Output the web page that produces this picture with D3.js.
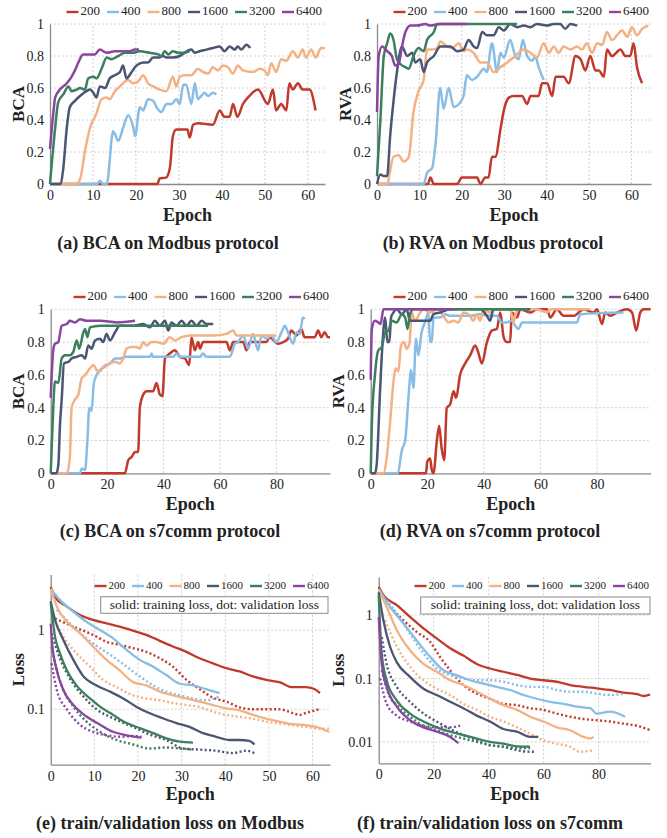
<!DOCTYPE html>
<html lang="en">
<head>
  <meta charset="UTF-8">
  <title>Training curves</title>
  <script src="https://cdn.jsdelivr.net/npm/d3@7"></script>
  <style>
    body { margin: 0; background: #fff; }
    text { font-family: "Liberation Serif", "DejaVu Serif", serif; fill: #222; }
  </style>
</head>
<body>
  <div id="chart"></div>
  <script>
    // legend entries and colours (same order in every panel)
    const sizes = ["200", "400", "800", "1600", "3200", "6400"];
    const colors = ["#c0392b", "#88bde6", "#f4b183", "#4b5574", "#3b7f5d", "#8a45a0"];

    const accTicks = [0, 0.2, 0.4, 0.6, 0.8, 1];
    const ticks64 = [0, 10, 20, 30, 40, 50, 60];
    const ticks99 = [0, 20, 40, 60, 80];
    const lossTicksModbus = [0.1, 1];
    const lossTicksS7 = [0.01, 0.1, 1];

    // [epoch, value] per series, in legend order
    const bcaModbus = [
      [[0,0],[25,0],[25.5,0.035],[27,0.04],[27.9,0.1],[28.6,0.3],[29.4,0.34],[32,0.34],[32.5,0.29],[33.3,0.37],[34.5,0.38],[37.9,0.37],[39.5,0.46],[40.6,0.42],[41.8,0.42],[42.6,0.5],[43.6,0.42],[44.9,0.5],[46.4,0.55],[48.4,0.59],[50.7,0.5],[51.9,0.59],[52.6,0.46],[53.8,0.5],[55,0.46],[55.7,0.63],[56.5,0.59],[57.7,0.63],[58.8,0.59],[60.4,0.59],[61.8,0.46]],
      [[0,0],[11,0],[11.6,0.02],[12.3,0],[13.2,0],[14.7,0.33],[15.9,0.27],[17,0.35],[18.2,0.43],[19.4,0.35],[19.8,0.3],[20.9,0.48],[21.7,0.46],[22.8,0.53],[24,0.52],[24.8,0.48],[25.9,0.45],[27.1,0.5],[28.3,0.5],[29.4,0.53],[30.2,0.5],[31,0.62],[31.7,0.62],[32.9,0.5],[33.7,0.63],[34.4,0.53],[35.2,0.55],[36,0.57],[36.8,0.55],[37.9,0.57],[38.7,0.56]],
      [[0,0],[6,0],[7,0.03],[8.1,0.2],[9.3,0.35],[10.8,0.44],[12,0.53],[13.2,0.54],[13.9,0.53],[15.1,0.58],[16.3,0.61],[17,0.63],[18.2,0.65],[19.3,0.63],[20.5,0.64],[21.7,0.68],[22.8,0.63],[24,0.61],[25.5,0.59],[27.1,0.58],[28.6,0.67],[29.4,0.61],[30.2,0.67],[31.3,0.68],[32.9,0.68],[34.4,0.72],[35.6,0.7],[36.8,0.69],[37.9,0.73],[39.1,0.71],[40.2,0.74],[41.4,0.73],[42.6,0.69],[43.7,0.74],[44.9,0.71],[47.2,0.7],[48.8,0.72],[49.9,0.71],[50.7,0.68],[51.5,0.755],[52.6,0.7],[53.8,0.78],[55,0.77],[56.5,0.83],[57.7,0.79],[58.8,0.84],[59.6,0.79],[60.8,0.84],[61.8,0.79],[63.1,0.85],[64,0.85]],
      [[0,0],[2.5,0],[3.1,0.1],[3.9,0.35],[4.6,0.48],[5.8,0.52],[7.4,0.56],[8.5,0.58],[9.3,0.59],[10.1,0.57],[10.8,0.54],[11.6,0.61],[12.8,0.6],[13.9,0.66],[15.1,0.68],[16.3,0.7],[17,0.74],[17.8,0.66],[19,0.7],[20.1,0.74],[21.7,0.76],[22.8,0.76],[24,0.79],[25.2,0.79],[26.3,0.8],[27.1,0.79],[28.6,0.79],[30.2,0.8],[31.3,0.82],[32.9,0.84],[33.7,0.82],[34.8,0.83],[36.4,0.84],[37.9,0.85],[39.5,0.86],[40.6,0.83],[41.8,0.86],[43,0.84],[43.7,0.86],[44.5,0.84],[45.7,0.87],[46.6,0.85]],
      [[0,0],[1.2,0.35],[1.9,0.51],[3.1,0.56],[4.3,0.61],[5,0.58],[6.2,0.59],[7,0.6],[8.1,0.59],[8.9,0.66],[10.1,0.67],[10.8,0.66],[12,0.72],[13.2,0.79],[14.3,0.78],[15.9,0.8],[17.4,0.82],[19.3,0.82],[20.9,0.83],[23.2,0.82],[25.2,0.81],[25.9,0.8],[26.7,0.83],[27.5,0.81],[28.6,0.83],[29.8,0.82],[31.3,0.82],[32.5,0.83]],
      [[0,0.22],[0.8,0.45],[1.2,0.54],[2.3,0.59],[3.9,0.63],[5,0.67],[5.8,0.71],[6.6,0.76],[7.7,0.81],[9.3,0.81],[10.4,0.81],[11.6,0.84],[13.2,0.82],[15.1,0.83],[17,0.83],[18.6,0.83],[19.7,0.84],[20.7,0.84]]
    ];

    const rvaModbus = [
      [[0,0],[12,0],[12.6,0.04],[13.4,0],[18.9,0],[20,0.04],[23.6,0.04],[24.4,0],[25.5,0.04],[26.3,0.04],[27.1,0.17],[27.9,0.17],[29.1,0.34],[29.9,0.46],[31.1,0.54],[32.2,0.55],[34.2,0.55],[35.4,0.5],[36.2,0.55],[38.1,0.55],[38.9,0.63],[40.1,0.63],[41.3,0.55],[42.1,0.67],[44,0.67],[45.2,0.63],[46.8,0.8],[48,0.78],[49.1,0.71],[50.3,0.8],[51.5,0.71],[52.3,0.71],[53.5,0.67],[54.2,0.84],[55.4,0.8],[57.4,0.84],[58.6,0.8],[59.7,0.8],[60.5,0.88],[61.3,0.73],[62.5,0.63]],
      [[0,0],[11,0],[11.8,0.07],[13,0.1],[13.8,0.25],[14.9,0.6],[15.7,0.47],[16.9,0.6],[18.1,0.48],[19.3,0.5],[20.4,0.55],[21.2,0.68],[22.4,0.65],[23.6,0.67],[25.2,0.72],[25.9,0.7],[27.1,0.88],[28.3,0.7],[29.1,0.82],[29.9,0.79],[31.4,0.9],[32.6,0.8],[33.4,0.78],[34.4,0.9],[35.4,0.8],[36.6,0.77],[37.3,0.8],[38.1,0.73],[39.3,0.65]],
      [[0,0],[2.5,0],[2.8,0.04],[3.9,0.17],[5.1,0.18],[6.3,0.14],[7.5,0.17],[8.6,0.45],[9.8,0.58],[11,0.65],[11.8,0.84],[13,0.84],[14.2,0.85],[14.9,0.89],[16.5,0.86],[17.7,0.85],[19.3,0.88],[20.4,0.83],[21.2,0.84],[22.8,0.82],[24.4,0.76],[25.9,0.76],[27.5,0.7],[29.1,0.73],[30.7,0.76],[32.6,0.8],[34.6,0.84],[36.2,0.82],[37.7,0.79],[39.3,0.88],[40.5,0.82],[41.7,0.86],[42.8,0.82],[44,0.86],[45.6,0.84],[47.2,0.86],[48.3,0.84],[49.5,0.88],[50.7,0.82],[51.9,0.88],[53.1,0.87],[54.2,0.95],[55.4,0.9],[56.6,0.93],[57.8,0.96],[59,0.92],[60.1,0.98],[61.3,0.93],[62.5,0.97],[64,0.99]],
      [[0,0],[0.8,0.06],[1.6,0.05],[2.4,0.05],[3.1,0.3],[3.9,0.52],[4.7,0.7],[5.9,0.86],[7.1,0.8],[8.3,0.82],[9,0.76],[10.2,0.78],[11,0.7],[11.8,0.76],[13.4,0.8],[14.9,0.86],[17.3,0.86],[18.9,0.83],[20.4,0.84],[21.6,0.9],[22.8,0.86],[23.6,0.85],[24.8,0.95],[25.9,0.93],[27.5,0.93],[28.7,0.98],[29.9,0.96],[31.4,1],[33,0.98],[34.6,0.99],[36.2,0.98],[37.7,1],[40.1,0.99],[41.7,1],[43.2,1],[44.4,0.97],[45.6,1],[47.2,0.99]],
      [[0,0.05],[0.8,0.4],[1.6,0.8],[2.4,0.88],[3.1,0.94],[3.9,0.9],[4.7,0.78],[5.5,0.75],[6.7,0.73],[7.5,0.72],[8.6,0.8],[9.8,0.85],[11,0.83],[11.8,0.9],[13.4,0.95],[14.2,1],[15.7,1],[33,1]],
      [[0,0.45],[0.4,0.8],[1.2,0.86],[2.4,0.83],[3.5,0.8],[4.3,0.74],[5.1,0.75],[5.9,0.86],[6.7,0.95],[7.9,0.99],[9.4,0.99],[11.4,1],[12.6,0.99],[14.9,1],[21.2,1]]
    ];

    const bcaS7 = [
      [[0,0],[26.3,0],[27.5,0.08],[28.7,0.1],[29.9,0.13],[31,0.13],[31.6,0.4],[32.8,0.48],[34,0.5],[36.3,0.5],[37.5,0.55],[38.7,0.48],[39.6,0.47],[40.5,0.7],[42.2,0.73],[44,0.75],[45.8,0.71],[47.6,0.7],[49.1,0.66],[49.9,0.83],[51.1,0.75],[52.3,0.8],[52.9,0.76],[54,0.8],[62.3,0.8],[63.5,0.75],[64.7,0.8],[68.2,0.8],[69.4,0.75],[70.6,0.8],[76.5,0.8],[77.6,0.83],[80.6,0.79],[82.4,0.8],[84.1,0.82],[85.3,0.87],[87.1,0.84],[88.8,0.88],[90,0.83],[93.6,0.83],[94.8,0.87],[95.9,0.83],[97.1,0.86],[98.3,0.83],[99,0.83]],
      [[0,0],[10.4,0],[11,0.03],[12.2,0.02],[13,0.2],[13.7,0.4],[14.5,0.38],[15.3,0.55],[16.3,0.6],[17.5,0.63],[19.2,0.65],[21,0.67],[22.8,0.7],[24.5,0.7],[26.9,0.71],[35.2,0.71],[35.8,0.73],[36.3,0.71],[43.4,0.71],[44.6,0.73],[45.8,0.71],[52.9,0.71],[54,0.73],[55.2,0.71],[63.5,0.71],[65.3,0.79],[66.4,0.8],[68.2,0.84],[70,0.76],[71.7,0.85],[73.5,0.75],[74.7,0.84],[76.5,0.82],[78.2,0.84],[80,0.8],[81.8,0.86],[83,0.9],[84.1,0.86],[85.9,0.79],[87.1,0.86],[88.3,0.85],[89.4,0.95],[90,0.94]],
      [[0,0],[5.7,0],[6.8,0.1],[7.4,0.4],[8.6,0.45],[9.8,0.48],[11,0.58],[12.2,0.6],[13.9,0.64],[15.1,0.66],[16.3,0.63],[17.5,0.62],[18.6,0.65],[21,0.67],[22.8,0.68],[24.5,0.67],[25.7,0.7],[26.9,0.76],[28.7,0.77],[30.4,0.77],[31.6,0.76],[32.8,0.8],[34,0.78],[35.8,0.8],[37.5,0.8],[39.9,0.79],[42.2,0.83],[44,0.81],[46.4,0.83],[49.3,0.84],[52.9,0.84],[57.6,0.84],[62.3,0.85],[64.7,0.87],[65.8,0.84],[80,0.84]],
      [[0,0],[2,0],[2.7,0.05],[3.3,0.3],[3.9,0.45],[4.7,0.67],[6.3,0.68],[7.4,0.7],[9.2,0.71],[11,0.72],[12.2,0.7],[13.3,0.78],[14.5,0.76],[15.7,0.81],[17.5,0.82],[18.6,0.8],[19.8,0.85],[21,0.81],[22.8,0.86],[24.5,0.9],[26.9,0.9],[29.3,0.9],[32.8,0.91],[35.2,0.89],[36.9,0.93],[38.7,0.9],[40.5,0.93],[41.7,0.87],[42.8,0.92],[44.6,0.9],[46.4,0.93],[48.1,0.9],[49.9,0.93],[51.7,0.9],[53.5,0.93],[55.2,0.91],[57.6,0.91]],
      [[0,0],[0.9,0.4],[1.5,0.56],[2.7,0.55],[3.9,0.7],[5.1,0.72],[6.8,0.72],[8,0.74],[9.2,0.81],[10.1,0.76],[11.6,0.86],[12.2,0.88],[13,0.83],[13.9,0.89],[17.5,0.9],[23.4,0.9],[35.2,0.9],[47,0.9],[55.8,0.9]],
      [[0,0.46],[0.9,0.75],[1.5,0.79],[2.7,0.8],[3.9,0.9],[5.7,0.91],[6.8,0.93],[8.6,0.92],[10.4,0.94],[12.7,0.93],[17.5,0.93],[23.4,0.92],[29.9,0.93]]
    ];

    const rvaS7 = [
      [[0,0],[19.5,0],[20,0.07],[21,0.09],[21.6,0.02],[22.2,0],[23.4,0.2],[24.2,0.29],[25.1,0.15],[26,0.08],[26.9,0.4],[28.1,0.42],[29.3,0.5],[30.2,0.46],[31.6,0.6],[33.4,0.67],[35.2,0.72],[36.9,0.78],[37.8,0.75],[39.3,0.67],[41.1,0.8],[42.8,0.87],[44.6,0.88],[45.8,0.98],[47,0.83],[48.1,0.8],[49.3,0.8],[49.9,0.98],[51.7,0.95],[52.9,1],[56.4,0.98],[58.8,1],[62.3,1],[63.5,0.95],[65.8,1],[68.2,0.96],[71.7,0.96],[75.3,1],[78.8,0.98],[80,1],[81.8,0.91],[82.9,0.98],[84.7,0.96],[87.1,0.98],[90.6,1],[92.4,0.98],[93.9,0.87],[95.3,0.98],[96.5,1],[99,1]],
      [[0,0],[9.6,0],[11,0.14],[12.2,0.2],[13.3,0.45],[14.3,0.63],[15.1,0.52],[16,0.82],[16.9,0.72],[18,0.86],[19.2,0.92],[20.4,0.98],[21,0.8],[21.6,0.8],[22.2,0.95],[24.5,0.95],[26.3,0.97],[28.1,0.96],[35.2,0.96],[38.7,0.97],[42.2,0.96],[44.6,0.96],[46.4,0.92],[48.1,0.92],[49.9,0.93],[51.1,0.9],[52.3,0.88],[53.5,0.92],[72.9,0.92],[74.1,0.97],[89.4,0.98]],
      [[0,0],[4.5,0],[5.7,0.1],[6.8,0.3],[8,0.55],[8.8,0.64],[9.8,0.62],[10.7,0.78],[11.8,0.8],[12.7,0.76],[13.7,0.79],[14.5,0.98],[15.7,0.93],[17.5,0.98],[18.6,1],[21,0.98],[23.4,1],[25.7,0.96],[27.5,0.92],[29.3,0.93],[31,0.92],[32.8,0.98],[34.6,0.97],[36.3,0.93],[37.5,0.97],[38.7,0.93],[39.9,1],[42.2,0.98],[44,1],[49.3,1],[50.5,0.92],[51.7,1],[58.8,1],[62.3,0.98],[63.5,1],[77.6,1]],
      [[0,0],[1.5,0],[2.1,0.05],[3.3,0.5],[4.2,0.8],[5.1,0.95],[5.9,0.8],[6.6,0.8],[7.2,0.95],[8,0.98],[9.2,1],[11,0.97],[12.7,1],[13.9,0.93],[15.7,0.93],[21,0.93],[22.2,0.97],[24.5,0.98],[28.1,1],[32.8,1],[38.7,1],[41.1,0.96],[42.2,0.93],[43.4,1],[56.4,1]],
      [[0,0],[0.4,0.3],[1.5,0.6],[2.7,0.75],[3.9,0.77],[5.1,0.86],[6.3,0.87],[7.4,0.93],[9.2,0.92],[11,0.97],[12.2,0.95],[13,0.88],[13.9,0.97],[15.1,1],[21,1],[32.8,1],[47,1],[55.8,1]],
      [[0,0.57],[0.4,0.88],[1.5,0.93],[2.7,0.92],[3.5,0.91],[4.5,1],[6.3,1],[21,1],[29.3,1]]
    ];

    const lossModbusTrain = [
      [[0,3.5],[1,2.6],[3.7,1.97],[6.7,1.55],[9.7,1.34],[12.8,1.21],[15.8,1.1],[18.9,0.98],[21.9,0.87],[25,0.73],[28,0.62],[31.1,0.53],[34.1,0.44],[37.2,0.38],[40.2,0.33],[43.3,0.3],[46.3,0.26],[49.4,0.235],[52.4,0.22],[55.4,0.19],[58.5,0.19],[60.4,0.18],[61.7,0.16]],
      [[0,3.3],[2.1,2.4],[5.2,1.7],[8.2,1.27],[11.3,1],[14.3,0.785],[17.4,0.56],[20.4,0.42],[23.5,0.345],[26.5,0.27],[29.6,0.21],[32.6,0.2],[35.6,0.18],[38.7,0.16]],
      [[0,3.3],[1.4,1.97],[3.7,1.27],[6.7,0.91],[9.7,0.62],[12.8,0.42],[15.8,0.31],[18.9,0.22],[21.9,0.2],[25,0.167],[28,0.15],[31.1,0.137],[34.1,0.125],[37.2,0.113],[40.2,0.103],[43.3,0.097],[46.3,0.085],[49.4,0.076],[52.4,0.07],[55.4,0.065],[58.5,0.063],[60.8,0.06],[63.8,0.052]],
      [[0,2.3],[1,1.34],[2.9,0.75],[5.2,0.42],[7.5,0.26],[10.5,0.2],[13.6,0.167],[16.6,0.137],[19.6,0.108],[22.7,0.089],[25.7,0.077],[28.8,0.067],[31.8,0.06],[34.9,0.05],[37.9,0.045],[41,0.041],[43.3,0.041],[45.5,0.04],[46.7,0.036]],
      [[0,2.2],[1,0.82],[2.1,0.51],[3.7,0.31],[5.9,0.2],[9,0.137],[11.3,0.108],[14.3,0.085],[17.4,0.067],[20.4,0.058],[23.5,0.05],[26.5,0.043],[29.6,0.039],[32.6,0.038]],
      [[0,1.2],[0.3,0.7],[1.4,0.31],[2.9,0.175],[5.2,0.113],[8.2,0.081],[11.3,0.064],[14.3,0.052],[17.4,0.047],[20.8,0.044]]
    ];

    const lossModbusVal = [
      [[1,1.4],[5.2,1.1],[9.7,0.87],[12.8,0.71],[15.8,0.65],[18.9,0.59],[21.9,0.53],[25,0.44],[28,0.345],[31.1,0.235],[34.1,0.18],[37.2,0.14],[40.2,0.125],[43.3,0.106],[46.3,0.1],[49.4,0.1],[52.4,0.1],[55.4,0.09],[57,0.085],[58.5,0.09],[61.5,0.1]],
      [[1.4,1.8],[5.2,1.1],[8.2,0.785],[11.3,0.59],[14.3,0.46],[17.4,0.345],[20.4,0.26],[23.5,0.2],[26.5,0.167],[29.6,0.15],[32.6,0.137],[35.6,0.13],[38.7,0.145]],
      [[0.6,1.47],[2.9,0.82],[5.9,0.51],[9,0.345],[12,0.235],[15.1,0.19],[18.9,0.15],[21.9,0.137],[25,0.13],[28,0.12],[31.1,0.113],[34.1,0.107],[37.2,0.093],[40.2,0.085],[43.3,0.08],[46.3,0.076],[49.4,0.07],[52.4,0.066],[55.4,0.063],[58.5,0.06],[61.5,0.057],[63.8,0.057]],
      [[0.2,0.91],[2.1,0.44],[4.4,0.245],[7.5,0.145],[10.5,0.1],[14.3,0.077],[18.9,0.06],[22.7,0.048],[26.5,0.041],[30.3,0.032],[34.1,0.031],[37.9,0.03],[41.7,0.028],[44.8,0.03],[46.7,0.028]],
      [[0.2,0.62],[1.4,0.31],[2.9,0.175],[5.2,0.108],[8.2,0.07],[11.3,0.052],[15.1,0.041],[18.9,0.036],[22.7,0.032],[26.5,0.033],[29.6,0.032],[32.6,0.031]],
      [[0.2,0.38],[1.4,0.175],[3.7,0.1],[6.7,0.064],[9.7,0.052],[12.8,0.047],[15.8,0.045],[18.9,0.046],[20.8,0.045]]
    ];

    const lossS7Train = [
      [[0,2.8],[1.7,2.07],[6.6,1.44],[11.4,0.94],[16.3,0.62],[21.1,0.43],[26,0.3],[30.8,0.23],[35.7,0.17],[40.5,0.144],[45.4,0.128],[50.3,0.114],[55.1,0.1],[60,0.094],[64.8,0.089],[69.7,0.079],[74.5,0.074],[79.4,0.07],[84.2,0.066],[89.1,0.06],[94,0.057],[96.4,0.053],[98.8,0.056]],
      [[0,2.6],[4.1,1.35],[9,0.74],[13.8,0.4],[18.7,0.22],[23.6,0.135],[28.4,0.113],[33.3,0.094],[38.1,0.083],[43,0.074],[47.8,0.066],[52.7,0.055],[57.5,0.048],[62.4,0.043],[67.3,0.04],[72.1,0.036],[77,0.034],[79.4,0.028],[84.2,0.03],[89.7,0.025]],
      [[0,2.5],[2.9,1.35],[6.6,0.58],[11.4,0.28],[16.3,0.17],[21.1,0.128],[26,0.094],[30.8,0.079],[35.7,0.062],[40.5,0.048],[45.4,0.038],[50.3,0.032],[55.1,0.025],[60,0.021],[64.8,0.017],[69.7,0.0153],[74.5,0.012],[77,0.0113],[78.2,0.012]],
      [[0,2.3],[1.7,0.83],[4.1,0.32],[6.6,0.18],[11.4,0.106],[16.3,0.069],[21.1,0.055],[26,0.043],[30.8,0.034],[35.7,0.026],[40.5,0.021],[45.4,0.016],[50.3,0.0145],[55.1,0.012],[58.1,0.012]],
      [[0,2.07],[1.1,0.25],[2.9,0.094],[6.6,0.045],[11.4,0.028],[16.3,0.021],[21.1,0.017],[26,0.0145],[30.8,0.0128],[35.7,0.0113],[40.5,0.01],[45.4,0.0094],[50.3,0.0085],[55.1,0.0084]],
      [[0,0.94],[1.1,0.17],[2.9,0.074],[6.6,0.036],[11.4,0.022],[16.3,0.017],[21.1,0.0145],[26,0.012],[29,0.0096]]
    ];

    const lossS7Val = [
      [[4.1,1.35],[9,0.83],[13.8,0.545],[18.7,0.38],[22.3,0.22],[26,0.135],[30.8,0.079],[35.7,0.058],[40.5,0.048],[45.4,0.04],[50.3,0.038],[55.1,0.034],[60,0.032],[64.8,0.028],[69.7,0.025],[74.5,0.023],[79.4,0.022],[84.2,0.021],[89.1,0.0194],[94,0.018],[98.8,0.0153]],
      [[1.7,1.95],[6.6,1.06],[11.4,0.51],[16.3,0.25],[21.1,0.144],[26,0.113],[30.8,0.1],[35.7,0.094],[40.5,0.094],[45.4,0.089],[50.3,0.079],[55.1,0.074],[60,0.074],[64.8,0.066],[69.7,0.062],[74.5,0.062],[79.4,0.058],[84.2,0.055],[89.7,0.058]],
      [[2.3,0.83],[6.6,0.32],[11.4,0.153],[16.3,0.094],[21.1,0.069],[26,0.055],[30.8,0.04],[35.7,0.032],[40.5,0.025],[45.4,0.021],[50.3,0.017],[55.1,0.0135],[60,0.0106],[64.8,0.0094],[69.7,0.0084],[73.3,0.007],[78.2,0.0074]],
      [[1.1,0.45],[2.9,0.17],[6.6,0.074],[11.4,0.043],[16.3,0.028],[21.1,0.021],[26,0.016],[30.8,0.0128],[35.7,0.0106],[40.5,0.0089],[45.4,0.0084],[50.3,0.0074],[55.1,0.007],[56.9,0.007]],
      [[1.1,0.135],[3.5,0.058],[6.6,0.038],[11.4,0.025],[16.3,0.018],[21.1,0.0153],[26,0.0128],[30.8,0.0113],[35.7,0.01],[40.5,0.0089],[45.4,0.0084],[50.3,0.008],[55.1,0.008]],
      [[0.5,0.1],[2.9,0.04],[6.6,0.026],[11.4,0.021],[16.3,0.018],[21.1,0.017],[26,0.017],[29.6,0.018]]
    ];

    const panels = [
      { solid: bcaModbus, x0: 50, x1: 325, xMax: 64, xTicks: ticks64, y0: 184, y1: 24, yTicks: accTicks,
        yLabel: "BCA", yLabelX: 20, epochY: 217, caption: "(a) BCA on Modbus protocol", capX: 168, capY: 245,
        legendY: 12, legendRight: 322, legendFont: 13 },
      { solid: rvaModbus, x0: 377, x1: 651, xMax: 64.6, xTicks: ticks64, y0: 184, y1: 24, yTicks: accTicks,
        yLabel: "RVA", yLabelX: 347, epochY: 217, caption: "(b) RVA on Modbus protocol", capX: 493, capY: 245,
        legendY: 12, legendRight: 649, legendFont: 13 },
      { solid: bcaS7, x0: 50.7, x1: 330, xMax: 99, xTicks: ticks99, y0: 473.3, y1: 309.3, yTicks: accTicks,
        yLabel: "BCA", yLabelX: 20, epochY: 506, caption: "(c) BCA on s7comm protocol", capX: 170, capY: 533,
        legendY: 297, legendRight: 329, legendFont: 13 },
      { solid: rvaS7, x0: 370.7, x1: 650.7, xMax: 99, xTicks: ticks99, y0: 473.3, y1: 309.3, yTicks: accTicks,
        yLabel: "RVA", yLabelX: 340, epochY: 506, caption: "(d) RVA on s7comm protocol", capX: 490, capY: 533,
        legendY: 297, legendRight: 649, legendFont: 13 },
      { solid: lossModbusTrain, dotted: lossModbusVal, log: true, yMin: 0.02, yMax: 5,
        x0: 50.7, x1: 330, xMax: 64, xTicks: ticks64, y0: 764.7, y1: 574.6, yTicks: lossTicksModbus,
        yLabel: "Loss", yLabelX: 20, epochY: 796, caption: "(e) train/validation loss on Modbus", capX: 170, capY: 825,
        legendY: 586, legendRight: 329, legendFont: 11, box: [100.7, 596.7, 328, 613.3] },
      { solid: lossS7Train, dotted: lossS7Val, log: true, yMin: 0.0046, yMax: 4,
        x0: 378.7, x1: 650.7, xMax: 99, xTicks: ticks99, y0: 763.3, y1: 577, yTicks: lossTicksS7,
        yLabel: "Loss", yLabelX: 340, epochY: 796, caption: "(f) train/validation loss on s7comm", capX: 490, capY: 825,
        legendY: 586, legendRight: 649, legendFont: 11, box: [420.7, 597, 650, 614] }
    ];

    const svg = d3.select("#chart").append("svg")
      .attr("width", 667)
      .attr("height", 838);

    panels.forEach(drawPanel);

    function drawPanel(p) {
      const g = svg.append("g");
      const x = d3.scaleLinear().domain([0, p.xMax]).range([p.x0, p.x1]);
      const y = p.log
        ? d3.scaleLog().domain([p.yMin, p.yMax]).range([p.y0, p.y1])
        : d3.scaleLinear().domain([0, 1]).range([p.y0, p.y1]);

      // dotted grid
      const grid = g.append("g").attr("stroke", "#c4c4c4").attr("stroke-width", 0.8).attr("stroke-dasharray", "2,2");
      grid.selectAll(".gy").data(p.yTicks.filter(t => t !== 0)).enter().append("line")
        .attr("x1", p.x0).attr("x2", p.x1)
        .attr("y1", d => y(d)).attr("y2", d => y(d));
      grid.selectAll(".gx").data(p.xTicks.filter(t => t !== 0)).enter().append("line")
        .attr("x1", d => x(d)).attr("x2", d => x(d))
        .attr("y1", p.y0).attr("y2", p.y1);

      // axes
      const gx = g.append("g")
        .attr("transform", `translate(0,${p.y0})`)
        .call(d3.axisBottom(x).tickValues(p.xTicks).tickSize(0).tickPadding(6));
      const gy = g.append("g")
        .attr("transform", `translate(${p.x0},0)`)
        .call(d3.axisLeft(y).tickValues(p.yTicks).tickFormat(d3.format("~g")).tickSize(0).tickPadding(6));
      [gx, gy].forEach(a => {
        a.select(".domain").attr("stroke", "#8a8a8a").attr("stroke-width", 1.3);
        a.selectAll("text").attr("font-family", "Liberation Serif, serif").attr("font-size", 14).attr("fill", "#222");
      });

      // series
      const line = d3.line()
        .x(d => x(d[0]))
        .y(d => y(d[1]))
        .curve(d3.curveMonotoneX);

      p.solid.forEach((s, i) => {
        if (p.dotted) {
          g.append("path")
            .attr("d", line(p.dotted[i]))
            .attr("fill", "none")
            .attr("stroke", colors[i])
            .attr("stroke-width", 2.4)
            .attr("stroke-dasharray", "2,2.4");
        }
        g.append("path")
          .attr("d", line(s))
          .attr("fill", "none")
          .attr("stroke", colors[i])
          .attr("stroke-width", p.dotted ? 2.3 : 2.5)
          .attr("stroke-linejoin", "round");
      });

      // labels
      g.append("text")
        .attr("transform", `translate(${p.yLabelX},${(p.y0 + p.y1) / 2}) rotate(-90)`)
        .attr("text-anchor", "middle")
        .attr("dominant-baseline", "middle")
        .attr("font-weight", "bold")
        .attr("font-size", 17)
        .text(p.yLabel);

      g.append("text")
        .attr("x", (p.x0 + p.x1) / 2)
        .attr("y", p.epochY)
        .attr("text-anchor", "middle")
        .attr("dominant-baseline", "middle")
        .attr("font-weight", "bold")
        .attr("font-size", 18)
        .text("Epoch");

      g.append("text")
        .attr("x", p.capX)
        .attr("y", p.capY)
        .attr("text-anchor", "middle")
        .attr("dominant-baseline", "middle")
        .attr("font-weight", "bold")
        .attr("font-size", 18)
        .text(p.caption);

      // legend, right aligned
      const lg = g.append("g");
      let cx = 0;
      sizes.forEach((name, i) => {
        lg.append("line")
          .attr("x1", cx).attr("x2", cx + 12)
          .attr("y1", 0).attr("y2", 0)
          .attr("stroke", colors[i]).attr("stroke-width", 2.4);
        const t = lg.append("text")
          .attr("x", cx + 14)
          .attr("y", 0)
          .attr("dominant-baseline", "middle")
          .attr("font-size", p.legendFont)
          .text(name);
        cx += 14 + t.node().getComputedTextLength() + 7;
      });
      lg.attr("transform", `translate(${p.legendRight - (cx - 7)},${p.legendY})`);

      if (p.box) {
        const [bx0, by0, bx1, by1] = p.box;
        g.append("rect")
          .attr("x", bx0).attr("y", by0)
          .attr("width", bx1 - bx0).attr("height", by1 - by0)
          .attr("fill", "#fff")
          .attr("stroke", "#8a8a8a")
          .attr("stroke-width", 1);
        g.append("text")
          .attr("x", (bx0 + bx1) / 2)
          .attr("y", (by0 + by1) / 2 + 0.5)
          .attr("text-anchor", "middle")
          .attr("dominant-baseline", "middle")
          .attr("font-size", 13.5)
          .text("solid: training loss, dot: validation loss");
      }
    }
  </script>
</body>
</html>
